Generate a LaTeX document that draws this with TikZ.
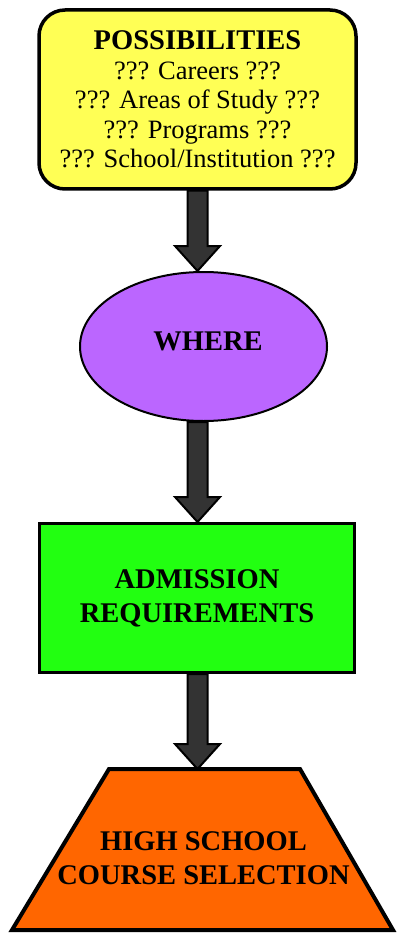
\documentclass[tikz,border=0pt]{standalone}
\usepackage{fontspec}
\setmainfont{Liberation Serif}
\usepackage{xcolor}
\usepackage{tikz}
\usetikzlibrary{shapes.geometric}

\definecolor{possyellow}{RGB}{255,255,85}
\definecolor{wherepurple}{RGB}{187,102,255}
\definecolor{reqgreen}{RGB}{34,255,17}
\definecolor{hsorange}{RGB}{255,102,0}
\definecolor{arrowgray}{RGB}{51,51,51}

% block arrow from point #1 down to point #2, on the axis
\newcommand{\flowarrow}[2]{%
  \draw[flowarr] ([xshift=-10pt]#1 -| axis) -- ([xshift=-10pt,yshift=25pt]#2 -| axis)
    -- ([xshift=-22.5pt,yshift=25pt]#2 -| axis) -- (#2 -| axis)
    -- ([xshift=22.5pt,yshift=25pt]#2 -| axis) -- ([xshift=10pt,yshift=25pt]#2 -| axis)
    -- ([xshift=10pt]#1 -| axis) -- cycle;}

\begin{document}
\begin{tikzpicture}[x=1pt, y=-1pt,
    every node/.style={align=center, font=\fontsize{28.5}{34}\selectfont\bfseries},
    possbox/.style={rectangle, rounded corners=26pt, draw, line width=3.5pt, fill=possyellow,
      minimum width=317pt, minimum height=179pt, font=\fontsize{26.5}{29.5}\selectfont},
    whereell/.style={ellipse, draw, line width=2pt, fill=wherepurple, minimum width=247pt, minimum height=149pt},
    reqbox/.style={rectangle, draw, line width=3pt, fill=reqgreen, minimum width=315pt, minimum height=149pt},
    hstrap/.style={draw, line width=4pt, line join=miter, fill=hsorange},
    flowarr/.style={draw=black, line width=2pt, line join=miter, fill=arrowgray}]
  \useasboundingbox (0,0) rectangle (396,933);
  % Nodes
  \coordinate (axis) at (197.5,0);
  \node[possbox] (poss) at (197.5,99.5) {{\fontsize{28.5}{31}\selectfont\bfseries POSSIBILITIES}\\
    ??? Careers ???\\ ??? Areas of Study ???\\ ??? Programs ???\\ ??? School/Institution ???};
  \node[whereell] (where) at (203.5,346.5) {};
  \node (wheretext) at (208,341) {WHERE};
  \node[reqbox] (req) at (197,598) {ADMISSION\\REQUIREMENTS};

  % Trapezoid
  \coordinate (hsTL) at (109,769);
  \coordinate (hsTR) at (300,769);
  \coordinate (hsBR) at (393,930);
  \coordinate (hsBL) at (12,930);
  \draw[hstrap] (hsTL) -- (hsTR) -- (hsBR) -- (hsBL) -- cycle;
  \node (hs) at (203.5,858) {HIGH SCHOOL\\COURSE SELECTION};

  % Edges
  \flowarrow{poss.south}{where.north}
  \flowarrow{where.south}{req.north}
  \flowarrow{req.south}{hsTL}
\end{tikzpicture}
\end{document}
